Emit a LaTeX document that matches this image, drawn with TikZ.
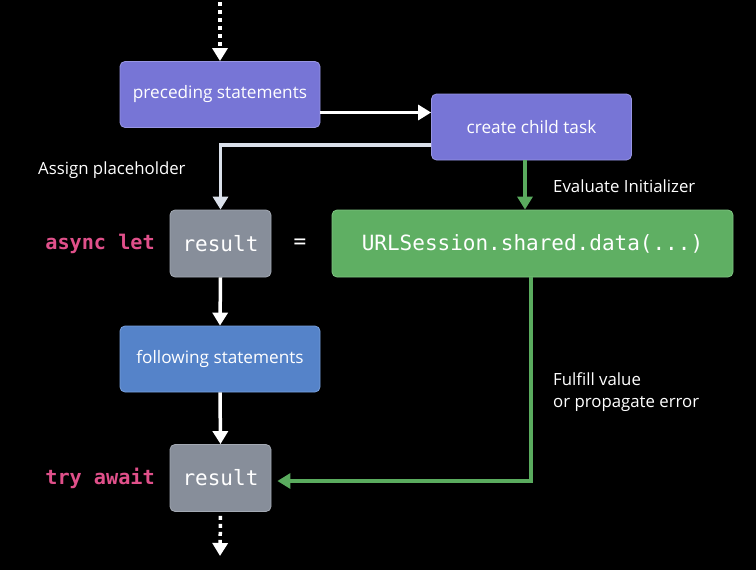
\documentclass[tikz,border=0pt]{standalone}
\usepackage{fontspec}
\setmainfont{Open Sans}
\setmonofont{DejaVu Sans Mono}
\usetikzlibrary{arrows.meta}
\definecolor{purp}{HTML}{7775D6}
\definecolor{purpb}{HTML}{9896E4}
\definecolor{grayb}{HTML}{878E9A}
\definecolor{graybd}{HTML}{A3A9B3}
\definecolor{grn}{HTML}{5FAF63}
\definecolor{grnb}{HTML}{7FC582}
\definecolor{blu}{HTML}{5583C9}
\definecolor{blub}{HTML}{78A0DC}
\definecolor{pink}{HTML}{E0508A}
\definecolor{lgray}{HTML}{DAE0EA}
\definecolor{garrow}{HTML}{5AAB5E}
\tikzset{
  box/.style={rounded corners=5pt, line width=0.8pt, text=white, inner sep=0pt,
    font=\fontsize{17.2}{20}\selectfont},
  pbox/.style={box, fill=purp, draw=purpb, minimum width=200pt, minimum height=66pt},
  gbox/.style={box, fill=grayb, draw=graybd, minimum width=101pt, minimum height=67pt,
    font=\ttfamily\fontsize{21}{24}\selectfont},
  greenbox/.style={box, fill=grn, draw=grnb, minimum width=401pt, minimum height=67pt,
    font=\ttfamily\fontsize{21}{24}\selectfont},
  bbox/.style={box, fill=blu, draw=blub, minimum width=200pt, minimum height=66pt},
  arr/.style={line width=3.5pt, -{Triangle[length=13pt,width=15pt]}},
  dotarr/.style={arr, white, dash pattern=on 4pt off 4pt},
  lbl/.style={text=white, anchor=west, inner sep=0pt, font=\fontsize{16.8}{20}\selectfont},
  kw/.style={text=pink, anchor=east, inner sep=0pt, font=\ttfamily\bfseries\fontsize{20.2}{24}\selectfont}
}
\begin{document}
\begin{tikzpicture}[x=1pt,y=-1pt]
\fill[black] (0,0) rectangle (756,570);
\useasboundingbox (0,0) rectangle (756,570);

\node[pbox] (prec) at (220,94.5) {preceding statements};
\node[pbox] (child) at (531.5,127) {create child task};
\node[gbox] (res1) at (220.5,243.5) {result};
\node[greenbox] (url) at (532.5,243.5) {URLSession.shared.data(...)};
\node[bbox] (follow) at (220,359) {following statements};
\node[gbox] (res2) at (220.5,478) {result};

\node[kw] (async) at (155,243.5) {async let};
\node[kw] (try) at (155,478) {try await};
\node[text=white, font=\ttfamily\fontsize{21}{24}\selectfont] (eq) at (300,243.5) {=};

\node[lbl] (assign) at (38,170) {Assign placeholder};
\node[lbl] (eval) at (553,186) {Evaluate Initializer};
\node[lbl, align=left] (fulfill) at (553,392.5) {Fulfill value\\[2pt]or propagate error};

\coordinate (top) at (220,2);
\coordinate (bot) at (220,556);

\draw[dotarr] (top) -- (prec.north);
\draw[arr, white] (prec.east |- 0,112.5) -- (child.west |- 0,112.5);
\draw[arr, lgray] (child.west |- 0,145) -| (res1.north);
\draw[arr, garrow] (child.south -| 525,0) -- (url.north -| 525,0);
\draw[arr, white] (res1.south) -- (follow.north);
\draw[arr, white] (follow.south) -- (res2.north);
\draw[arr, garrow, shorten >=6pt] (url.south -| 531,0) |- (res2.east |- 0,481);
\draw[dotarr, shorten <=4pt] (res2.south) -- (bot);
\end{tikzpicture}
\end{document}
